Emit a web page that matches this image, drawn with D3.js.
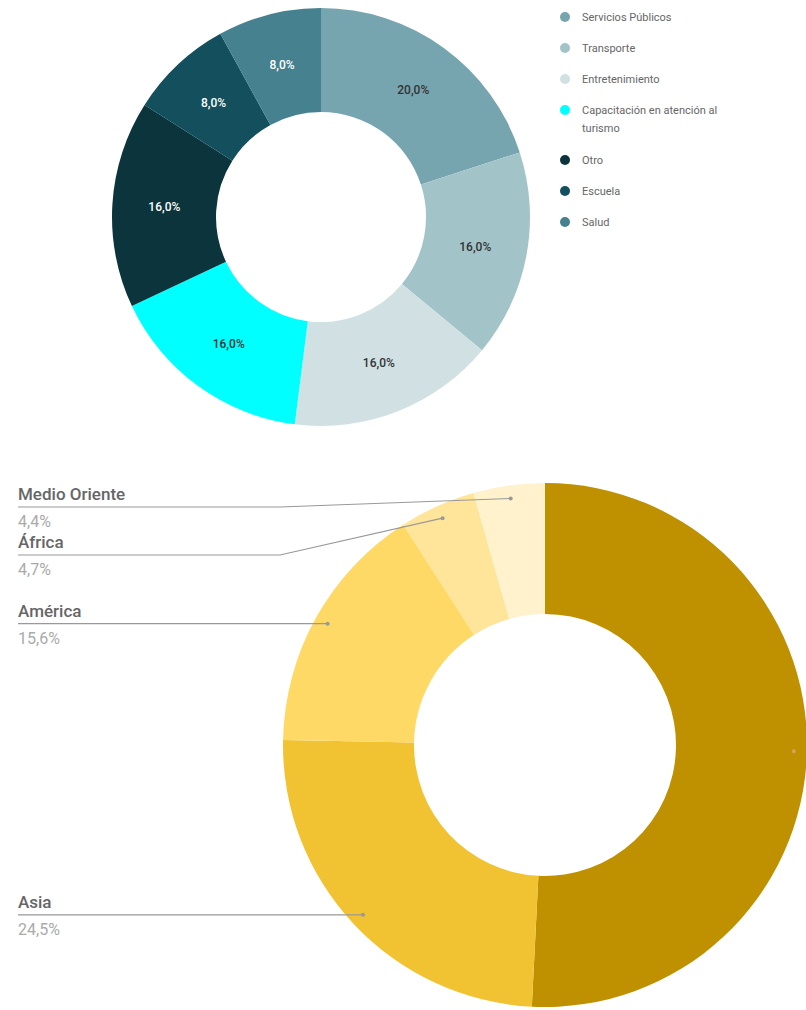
<!DOCTYPE html>
<html>
<head>
<meta charset="utf-8">
<script src="https://d3js.org/d3.v7.min.js"></script>
<style>
  body { margin: 0; background: #fff; }
  svg { display: block; font-family: Roboto, "Noto Sans", sans-serif; }
</style>
</head>
<body>
<script>
// Top donut data
const topCategories = ["Servicios Públicos", "Transporte", "Entretenimiento",
  "Capacitación en atención al turismo", "Otro", "Escuela", "Salud"];
const topValues = [20.0, 16.0, 16.0, 16.0, 16.0, 8.0, 8.0];
const topColors = ["#76a5af", "#a2c4c9", "#d0e0e3", "#00ffff", "#0c343d", "#134f5c", "#45818e"];

// Bottom donut data (first slice's label is off the picture)
const regionCategories = ["Europa", "Asia", "América", "África", "Medio Oriente"];
const regionValues = [50.8, 24.5, 15.6, 4.7, 4.4];
const regionColors = ["#bf9000", "#f1c232", "#ffd966", "#ffe599", "#fff2cc"];

const width = 806, height = 1010;

const svg = d3.select("body").append("svg")
  .attr("width", width)
  .attr("height", height);

const fmt = v => d3.format(".1f")(v).replace(".", ",") + "%";

// ---------- top donut ----------
const topData = topCategories.map((c, i) => ({ name: c, value: topValues[i], color: topColors[i] }));
const topTotal = d3.sum(topValues);

const pie = d3.pie().sort(null).value(d => d.value);
const topArc = d3.arc().innerRadius(105).outerRadius(209);

const g1 = svg.append("g").attr("transform", "translate(321,217)");

g1.selectAll("path")
  .data(pie(topData))
  .enter().append("path")
  .attr("d", topArc)
  .attr("fill", d => d.data.color);

// dark slices get white labels
const darkSet = new Set(["#0c343d", "#134f5c", "#45818e"]);
g1.selectAll("text")
  .data(pie(topData))
  .enter().append("text")
  .attr("transform", d => "translate(" + topArc.centroid(d) + ")")
  .attr("text-anchor", "middle")
  .attr("dy", "0.35em")
  .style("font-size", "12px")
  .style("font-weight", 500)
  .attr("fill", d => darkSet.has(d.data.color) ? "#ffffff" : "#333333")
  .text(d => fmt(d.data.value / topTotal * 100));

// legend
const legend = svg.append("g").attr("transform", "translate(565,17)");
let ly = 0;
topData.forEach(d => {
  const item = legend.append("g").attr("transform", "translate(0," + ly + ")");
  item.append("circle").attr("r", 5).attr("fill", d.color);
  // wrap long names
  const lines = d.name.length > 24 ? [d.name.split(" ").slice(0, -1).join(" "), d.name.split(" ").slice(-1)[0]] : [d.name];
  lines.forEach((t, j) => {
    item.append("text")
      .attr("x", 17)
      .attr("y", j * 18)
      .attr("dy", "0.35em")
      .style("font-size", "11px")
      .attr("fill", "#666")
      .text(t);
  });
  ly += 31 + (lines.length - 1) * 19;
});

// ---------- bottom donut ----------
const cx = 545, cy = 745, outerR = 262, innerR = 131;
const regionData = regionCategories.map((c, i) => ({ name: c, value: regionValues[i], color: regionColors[i] }));

const arc2 = d3.arc().innerRadius(innerR).outerRadius(outerR);
const g2 = svg.append("g").attr("transform", "translate(" + cx + "," + cy + ")");

const slices = pie(regionData);
g2.selectAll("path")
  .data(slices)
  .enter().append("path")
  .attr("d", arc2)
  .attr("fill", d => d.data.color);

// label anchors at 95% of the outer radius, mid angle
const pointR = outerR * 0.95;
const labels = slices.map(s => {
  const a = (s.startAngle + s.endAngle) / 2;
  return { d: s.data, x: cx + pointR * Math.sin(a), y: cy - pointR * Math.cos(a), left: Math.sin(a) < 0 };
});

// left side labels stacked from top
const leftLabels = labels.filter(l => l.left).sort((a, b) => a.y - b.y);
let prev = -Infinity;
leftLabels.forEach(l => {
  l.ly = Math.max(l.y, prev + 48, 507);
  prev = l.ly;
});

const labelX = 18, elbowX = 280;
leftLabels.forEach(l => {
  const pts = Math.abs(l.ly - l.y) < 1
    ? [[labelX, l.ly], [l.x, l.y]]
    : [[labelX, l.ly], [elbowX, l.ly], [l.x, l.y]];
  svg.append("path")
    .attr("d", d3.line()(pts))
    .attr("fill", "none")
    .attr("stroke", "#999")
    .attr("stroke-width", 1.2);
  svg.append("circle").attr("cx", l.x).attr("cy", l.y).attr("r", 2).attr("fill", "#999");
  svg.append("text")
    .attr("x", labelX).attr("y", l.ly - 7)
    .style("font-size", "17px").style("font-weight", 500)
    .attr("fill", "#666")
    .text(l.d.name);
  svg.append("text")
    .attr("x", labelX).attr("y", l.ly + 20)
    .style("font-size", "16px")
    .attr("fill", "#aaa")
    .text(fmt(l.d.value));
});

// right side label lies outside the picture: only its anchor dot shows
labels.filter(l => !l.left).forEach(l => {
  svg.append("circle").attr("cx", l.x).attr("cy", l.y).attr("r", 2).attr("fill", "#d9a25a");
});
</script>
</body>
</html>
